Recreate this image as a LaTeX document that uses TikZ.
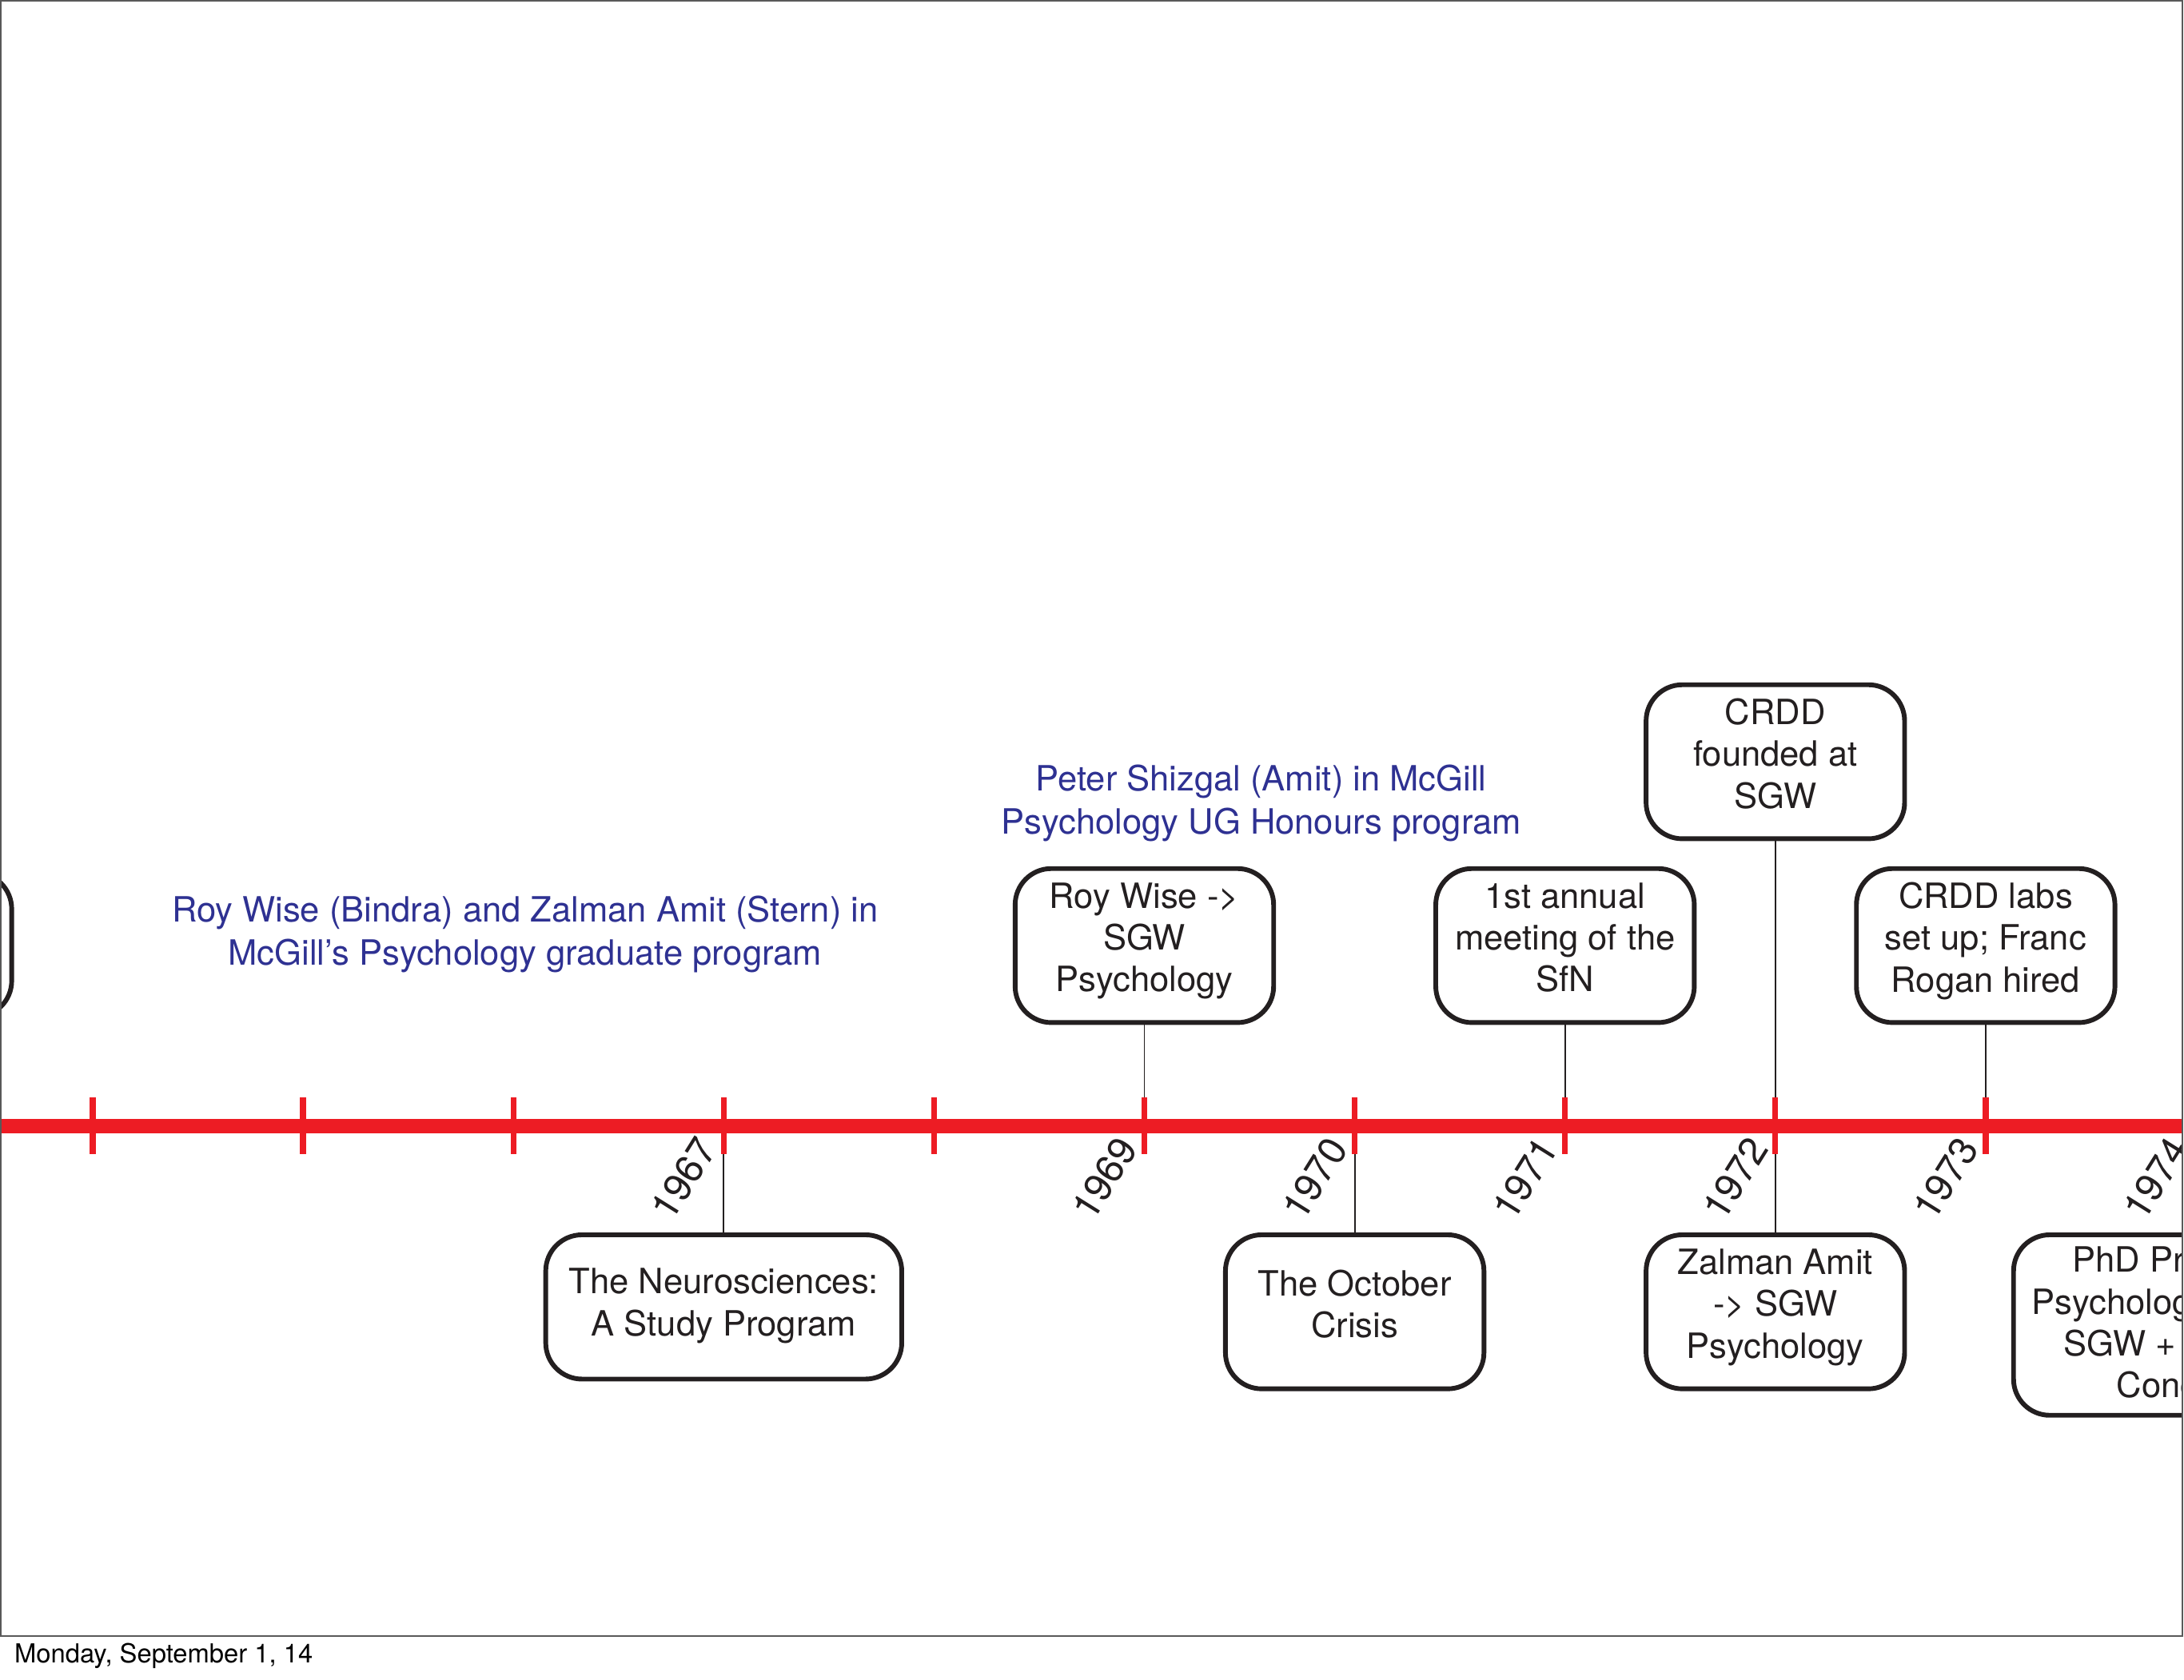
\documentclass[tikz,border=0pt]{standalone}
\usepackage{fontspec}
\setmainfont{TeX Gyre Heros}
\usepackage{xcolor}
\definecolor{lineRed}{RGB}{237,28,36}
\definecolor{noteBlue}{RGB}{46,49,146}
\definecolor{boxInk}{RGB}{35,31,32}
\tikzstyle{event} = [rectangle, rounded corners = 13pt, draw = boxInk, line width = 1.7pt, fill = white, align = center, inner sep = 0pt, text depth = 6pt, minimum width = 92.8pt, minimum height = 55.3pt, text = boxInk, font = \fontsize{12.5}{15}\selectfont]
\tikzstyle{stem} = [draw = boxInk, line width = 0.55pt]
\tikzstyle{timeline} = [draw = lineRed, line width = 5.1pt]
\tikzstyle{tick} = [draw = lineRed, line width = 2.1pt]
\tikzstyle{year} = [anchor = east, rotate = 58, inner sep = 0pt, text = boxInk, font = \fontsize{14}{14}\selectfont]
\tikzstyle{note} = [align = center, inner sep = 0pt, text = noteBlue, font = \fontsize{12.5}{15.5}\selectfont]

\begin{document}
\begin{tikzpicture}[x = 0.5pt, y = -0.5pt]
            \useasboundingbox (0, 0) rectangle (1568, 1206.4);
            \begin{scope}
            \clip (0, 0) rectangle (1567, 1175);
            \foreach \yr in {1963, ..., 1974}
                \coordinate (t\yr) at ({972.6 + 151*(\yr - 1970)}, 808.5);
            % boxes above the line
            \node (early) at (-84.4, 678.5) [event, minimum height = 51.8pt] {};
            \node (wise) at (821.6, 679) [event] {Roy Wise ->\\SGW\\Psychology};
            \node (sfn) at (1123.6, 679) [event] {1st annual\\meeting of the\\SfN};
            \node (crdd) at (1274.6, 547) [event] {CRDD\\founded at\\SGW};
            \node (labs) at (1425.6, 679) [event] {CRDD labs\\set up; Franc\\Rogan hired};
            % boxes below the line
            \node (neuro) at (519.6, 938.5) [event, text depth = 3.5pt, minimum width = 127.8pt, minimum height = 51.8pt] {The Neurosciences:\\A Study Program};
            \node (october) at (972.6, 942) [event] {The October\\Crisis};
            \node (zalman) at (1274.6, 942) [event] {Zalman Amit\\-> SGW\\Psychology};
            \node (phd) at (1576.6, 951.5) [event, text depth = 2pt, minimum width = 131pt, minimum height = 64.8pt] {PhD Pr\phantom{ogram in}\\Psycholog\phantom{y begins at}\\SGW +\phantom{ Loyola ->}\\Conc\phantom{ordia}};
            \draw [stem] (early) -- (t1963);
            \draw [stem] (wise) -- (t1969);
            \draw [stem] (sfn) -- (t1971);
            \draw [stem] (crdd) -- (zalman);
            \draw [stem] (labs) -- (t1973);
            \draw [stem] (t1967) -- (neuro);
            \draw [stem] (t1970) -- (october);
            \draw [stem] (t1974) -- (phd);
            \draw [timeline] (t1963) -- (t1974);
            \foreach \yr in {1963, ..., 1974}
                \draw [tick] (t\yr) ++(0, -20.5) -- ++(0, 41);
            \foreach \yr in {1967, 1969, 1970, 1971, 1972, 1973, 1974}
                \node (y\yr) at ({960.6 + 151*(\yr - 1970)}, 819.5) [year] {\yr};
            \node (gradnote) at (377, 671) [note] {Roy Wise (Bindra) and Zalman Amit (Stern) in\\McGill’s Psychology graduate program};
            \node (ugnote) at (905.5, 577) [note] {Peter Shizgal (Amit) in McGill\\Psychology UG Honours program};
            \end{scope}
            \draw [black!65, line width = 0.5pt] (0.5, 0.5) rectangle (1567, 1175);
            \node (date) at (10, 1189) [anchor = west, inner sep = 0pt, font = \fontsize{9.4}{11}\selectfont] {Monday, September 1, 14};
        \end{tikzpicture}
\end{document}
